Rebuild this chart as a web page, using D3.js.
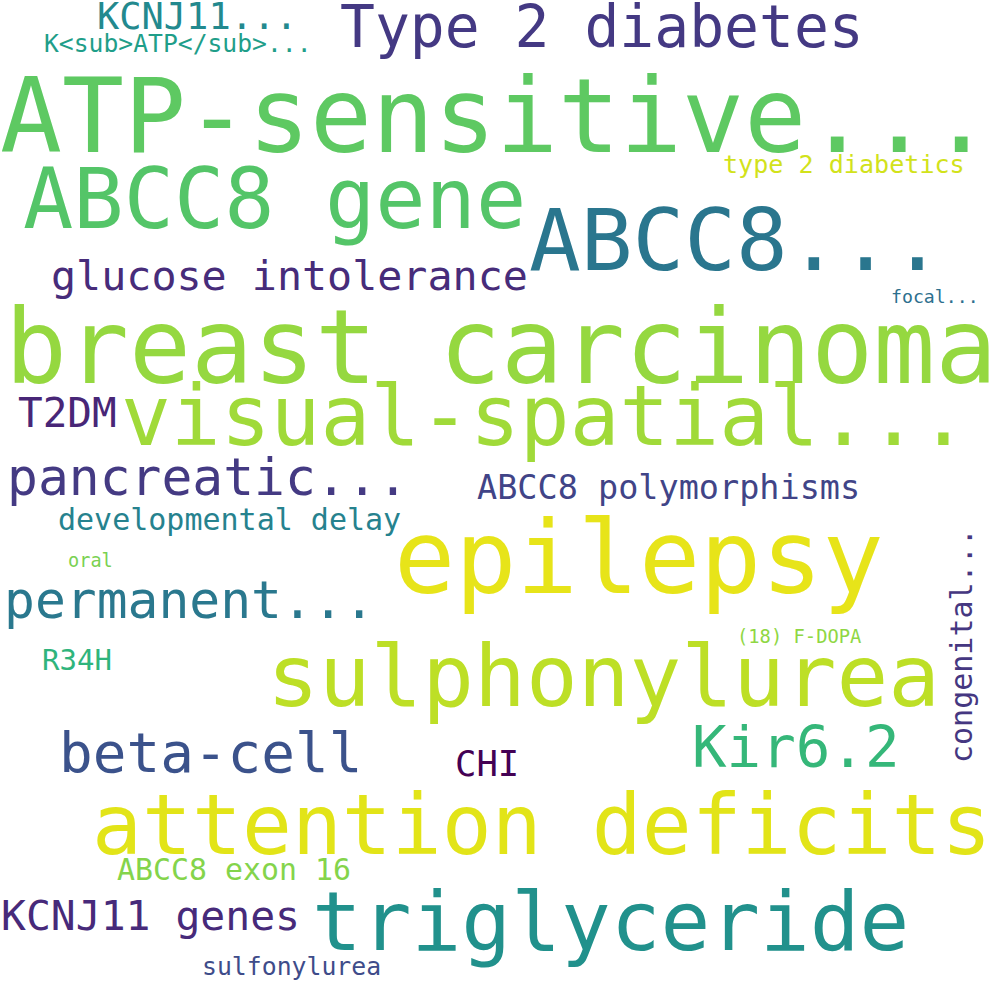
<!DOCTYPE html>
<html>
<head>
<meta charset="utf-8">
<script src="https://d3js.org/d3.v7.min.js"></script>
<style>
  body { margin: 0; background: #ffffff; }
</style>
</head>
<body>
<div id="cloud"></div>
<script>
// words in the cloud
var words = ["ATP-sensitive...", "Type 2 diabetes", "KCNJ11...", "K<sub>ATP</sub>...",
  "ABCC8 gene", "ABCC8...", "type 2 diabetics", "glucose intolerance", "focal...",
  "breast carcinoma", "visual-spatial...", "T2DM", "pancreatic...", "ABCC8 polymorphisms",
  "developmental delay", "epilepsy", "oral", "permanent...", "(18) F-DOPA", "congenital...",
  "sulphonylurea", "R34H", "beta-cell", "CHI", "Kir6.2", "attention deficits",
  "ABCC8 exon 16", "KCNJ11 genes", "triglyceride", "sulfonylurea"];

// word weights
var weights = [103, 58, 37, 24.7, 83.6, 86, 25.1, 41.7, 18.2, 103, 82.8, 41, 51.3, 33.5, 30,
  101.7, 18.6, 51.3, 18.8, 30, 86, 29, 56, 35.6, 57.5, 83, 29.9, 41.4, 82.7, 24.8];

// layout coordinates of each word (cloud units 0-1000)
var cloudX = [0, 340, 97, 44, 23, 529, 723, 51, 891, 5, 121, 18, 7, 477, 58, 394, 68, 4,
  737, 972, 267, 42, 59, 455, 692, 92, 117, 1, 312, 202];
var cloudY = [152, 47, 29, 52, 228, 270, 173, 290, 303, 383, 445, 427, 495, 499, 530, 593,
  567, 618, 643, 763, 706, 670, 772, 776, 767, 854, 880, 930, 950, 975];
var rotations = [0, 0, 0, 0, 0, 0, 0, 0, 0, 0, 0, 0, 0, 0, 0, 0, 0, 0, 0, -90, 0, 0, 0, 0,
  0, 0, 0, 0, 0, 0];

// viridis colours picked per word
var colors = ["#5ec962", "#443983", "#23898e", "#1f9e89", "#54c568", "#2a768e", "#d2e21b",
  "#472c7a", "#2d708e", "#95d840", "#a0da39", "#482677", "#443a83", "#414487", "#26828e",
  "#e7e419", "#7ad151", "#2a788e", "#8fd744", "#453781", "#bddf26", "#2fb47c", "#3b528b",
  "#440154", "#35b779", "#e2e418", "#84d44b", "#472a7a", "#21918c", "#3e4c8a"];

var svgWidth = 1000;
var svgHeight = 1000;

var data = words.map(function(w, i) {
  return {text: w, weight: weights[i], x: cloudX[i], y: cloudY[i], rotate: rotations[i], color: colors[i]};
});

// scales
var xScale = d3.scaleLinear().domain([0, 1000]).range([0, svgWidth]);
var yScale = d3.scaleLinear().domain([0, 1000]).range([0, svgHeight]);
var sizeScale = d3.scaleLinear().domain([0, d3.max(weights)]).range([0, 103]);

var svg = d3.select("#cloud").append("svg")
  .attr("width", svgWidth)
  .attr("height", svgHeight);

svg.append("rect")
  .attr("width", svgWidth)
  .attr("height", svgHeight)
  .attr("fill", "#ffffff");

svg.append("g").selectAll("text")
  .data(data)
  .enter()
  .append("text")
  .attr("transform", d => `translate(${xScale(d.x)}, ${yScale(d.y)}) rotate(${d.rotate})`)
  .attr("font-family", "'DejaVu Sans Mono', monospace")
  .attr("font-size", d => sizeScale(d.weight) + "px")
  .attr("fill", d => d.color)
  .text(d => d.text);
</script>
</body>
</html>
